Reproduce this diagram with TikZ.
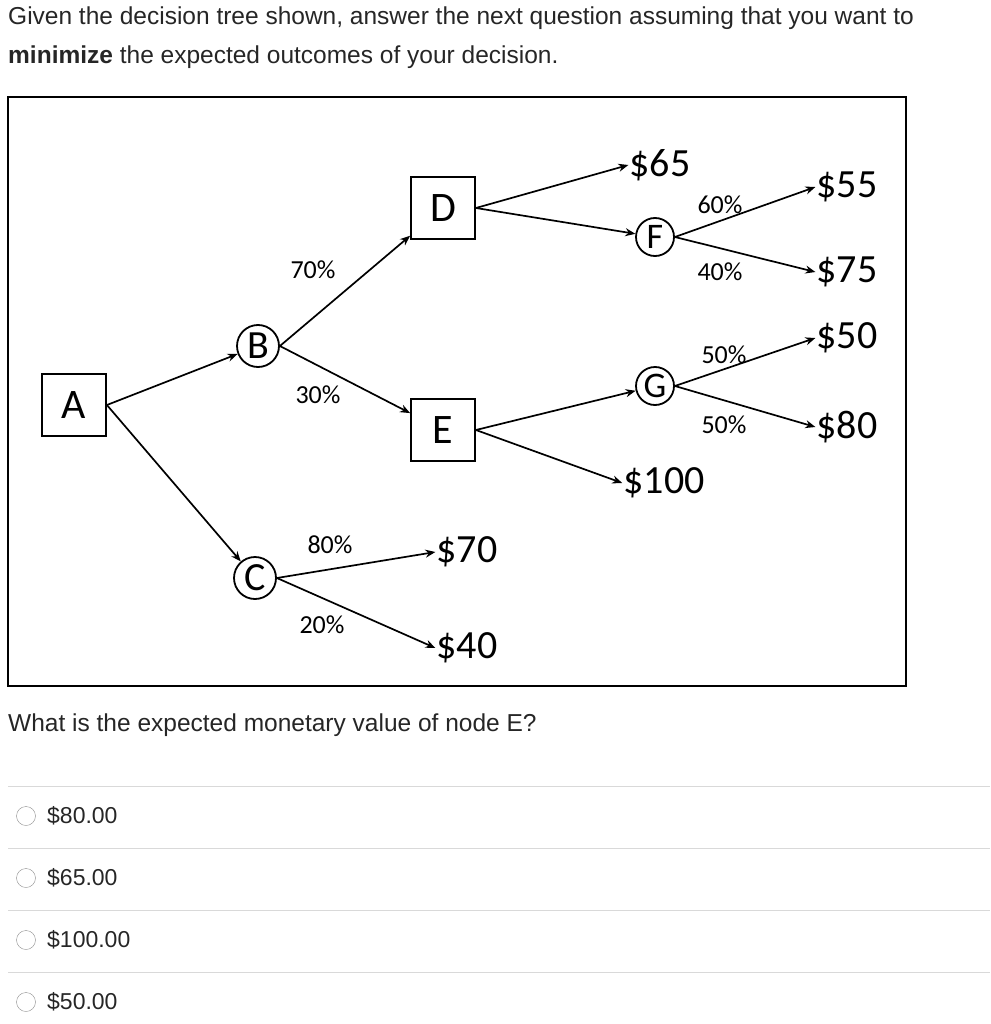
\documentclass[tikz,border=0pt]{standalone}
\usepackage{fontspec}
\setmainfont{Liberation Sans}
\newfontfamily\carlito{Carlito}
\usetikzlibrary{arrows.meta}
\begin{document}
\begin{tikzpicture}[x=1pt,y=-1pt,
 hdr/.style={anchor=west,inner sep=0,font=\fontsize{24.5}{28}\selectfont,text=black!85},
 sq/.style={draw,line width=1.8pt,minimum width=64pt,minimum height=62pt,font=\carlito\fontsize{42}{46}\selectfont,inner sep=0},
 cir/.style={draw,circle,line width=1.8pt,minimum size=42pt,font=\carlito\fontsize{40}{44}\selectfont,inner sep=0},
 cir2/.style={draw,circle,line width=1.8pt,minimum size=38pt,font=\carlito\fontsize{36}{40}\selectfont,inner sep=0},
 val/.style={font=\carlito\fontsize{40}{44}\selectfont,inner sep=1pt},
 pct/.style={font=\carlito\fontsize{26}{30}\selectfont,inner sep=0},
 ar/.style={line width=1.7pt,-{Stealth[length=10pt,width=8pt]}},
 opt/.style={hdr,font=\fontsize{23}{26}\selectfont}]
\useasboundingbox (0,0) rectangle (990,1024);
\node[hdr] (h1) at (8,18) {Given the decision tree shown, answer the next question assuming that you want to};
\node[hdr] (h2) at (8,57) {\textbf{minimize} the expected outcomes of your decision.};
\draw[line width=1.5pt] (8,686) -- (8,97) -- (906,97) -- (906,686) -- cycle;
\draw[line width=2.5pt] (8,97) -- (906,97);
\node[sq] (A) at (74,405) {A};
\node[cir] (B) at (258,346) {B};
\node[cir] (C) at (255,578) {C};
\node[sq] (D) at (443,208) {D};
\node[sq] (E) at (443,430) {E};
\node[cir2] (F) at (655,237) {F};
\node[cir2] (G) at (655,386) {G};
\node[val] (v65) at (660,165) {\$65};
\node[val] (v55) at (847,187) {\$55};
\node[val] (v75) at (847,272) {\$75};
\node[val] (v50) at (847,338) {\$50};
\node[val] (v80) at (847,427) {\$80};
\node[val] (v100) at (664,483) {\$100};
\node[val] (v70) at (467,552) {\$70};
\node[val] (v40) at (467,648) {\$40};
\node[pct] at (313,270) {70\%};
\node[pct] at (318,395) {30\%};
\node[pct] at (720,205) {60\%};
\node[pct] at (720,272) {40\%};
\node[pct] at (724,355) {50\%};
\node[pct] at (724,425) {50\%};
\node[pct] at (330,545) {80\%};
\node[pct] at (322,625) {20\%};
\draw[ar] (A.east) -- (B);
\draw[ar] (A.east) -- (C);
\draw[ar] (B.east) -- (D);
\draw[ar] (B.east) -- (E);
\draw[ar] (D.east) -- (v65.west);
\draw[ar] (D.east) -- (F);
\draw[ar] (E.east) -- (G);
\draw[ar] (E.east) -- (v100.west);
\draw[ar] (F.east) -- (v55.west);
\draw[ar] (F.east) -- (v75.west);
\draw[ar] (G.east) -- (v50.west);
\draw[ar] (G.east) -- (v80.west);
\draw[ar] (C.east) -- (v70.west);
\draw[ar] (C.east) -- (v40.west);
\node[hdr] (q) at (8,725) {What is the expected monetary value of node E?};
\foreach \y in {786,848,910,972} \draw[black!15] (8,\y) -- (990,\y);
\foreach \y/\t [count=\i] in {816/80.00,878/65.00,940/100.00,1002/50.00}{
 \node[draw=black!45,circle,minimum size=19pt,inner sep=0] (r\i) at (26,\y) {};
 \node[opt] (o\i) at (47,\y) {\$\t};}
\end{tikzpicture}
\end{document}
